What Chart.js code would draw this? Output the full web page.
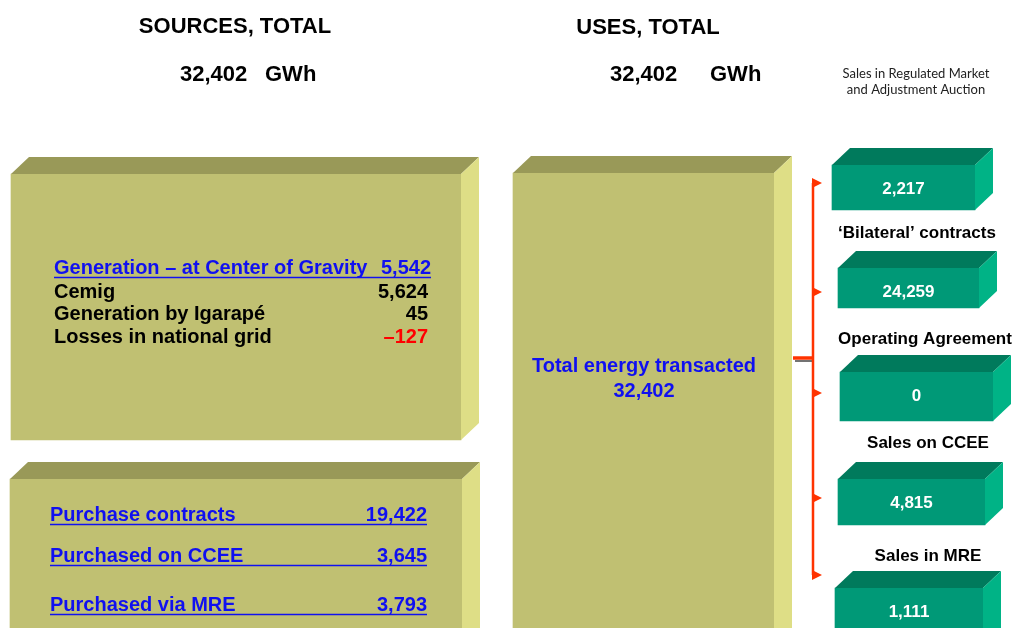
<!DOCTYPE html>
<html>
<head>
<meta charset="utf-8">
<script src="https://cdn.jsdelivr.net/npm/chart.js@4.4.1/dist/chart.umd.min.js"></script>
<style>
  html, body { margin: 0; padding: 0; background: #fff; }
  #wrap { width: 1016px; height: 628px; }
</style>
</head>
<body>
<div id="wrap"><canvas id="chart" width="1016" height="628"></canvas></div>
<script>
// values, GWh
const sourcesTotal = 32402;
const usesTotal = 32402;
const generationTitle = 'Generation – at Center of Gravity';
const generationTotal = 5542;
const generationLabels = ['Cemig', 'Generation by Igarapé', 'Losses in national grid'];
const generationValues = [5624, 45, -127];
const purchaseLabels = ['Purchase contracts', 'Purchased on CCEE', 'Purchased via MRE'];
const purchaseValues = [19422, 3645, 3793];
const transactedLabel = 'Total energy transacted';
const transactedValue = 32402;
const useLabels = ['Sales in Regulated Market|and Adjustment Auction', '‘Bilateral’ contracts', 'Operating Agreement', 'Sales on CCEE', 'Sales in MRE'];
const useValues = [2217, 24259, 0, 4815, 1111];

// layout of the slide (units = px of the 1016x628 slide)
const srcBoxes = [[11, 174, 461, 440], [10, 479, 462, 650], [513, 173, 774, 650]];
const useBoxes = [[832, 165, 975, 210], [838, 268, 979, 308], [840, 372, 993, 421], [838, 479, 985, 525], [835, 588, 983, 650]];
const useLabelPos = [[916, 74], [917, 233], [925, 339], [928, 443], [928, 556]];
const arrowYs = [183, 292, 393, 498, 575];
const depth = [18, 17];

const khaki = { front: '#c0c072', top: '#999958', side: '#dede86' };
const green = { front: '#009977', top: '#007a5c', side: '#00b386' };
const arrowRed = '#ff3300';
const linkBlue = '#1010f0';
const FONT = '"Liberation Sans", Arial, sans-serif';

function fmt(v) {
  return (v < 0 ? '–' : '') + Math.abs(v).toLocaleString('en-US');
}

function boxDataset(b, pal) {
  return {
    data: [{ x: (b[0] + b[2]) / 2, y: [b[1], b[3]] }],
    barThickness: b[2] - b[0],
    backgroundColor: pal.front,
    topColor: pal.top,
    sideColor: pal.side,
    borderWidth: 0,
    grouped: false
  };
}

var datasets = [];
srcBoxes.forEach(b => datasets.push(boxDataset(b, khaki)));
useBoxes.forEach(b => datasets.push(boxDataset(b, green)));

// top and side faces of each box
const box3d = {
  id: 'box3d',
  afterDatasetsDraw(chart) {
    const ctx = chart.ctx;
    const dx = depth[0], dy = depth[1];
    chart.data.datasets.forEach((ds, i) => {
      chart.getDatasetMeta(i).data.forEach(el => {
        const l = el.x - el.width / 2, r = el.x + el.width / 2;
        const t = Math.min(el.y, el.base), btm = Math.max(el.y, el.base);
        ctx.save();
        ctx.fillStyle = ds.topColor;
        ctx.beginPath();
        ctx.moveTo(l, t); ctx.lineTo(l + dx, t - dy); ctx.lineTo(r + dx, t - dy); ctx.lineTo(r, t);
        ctx.closePath(); ctx.fill();
        ctx.fillStyle = ds.sideColor;
        ctx.beginPath();
        ctx.moveTo(r, t); ctx.lineTo(r + dx, t - dy); ctx.lineTo(r + dx, btm - dy); ctx.lineTo(r, btm);
        ctx.closePath(); ctx.fill();
        ctx.restore();
      });
    });
  }
};

// all the text, connector and arrows
const slideText = {
  id: 'slideText',
  afterDraw(chart) {
    const ctx = chart.ctx;
    const X = v => chart.scales.x.getPixelForValue(v);
    const Y = v => chart.scales.y.getPixelForValue(v);
    ctx.save();
    ctx.textBaseline = 'middle';

    function txt(s, x, y, font, color, align) {
      ctx.font = font;
      ctx.fillStyle = color;
      ctx.textAlign = align || 'left';
      ctx.fillText(s, X(x), Y(y));
    }
    function underline(x0, x1, y, color) {
      ctx.strokeStyle = color;
      ctx.lineWidth = 1.6;
      ctx.beginPath();
      ctx.moveTo(X(x0), Y(y)); ctx.lineTo(X(x1), Y(y));
      ctx.stroke();
    }

    // headings
    txt('SOURCES, TOTAL', 235, 27, 'bold 22px ' + FONT, '#000', 'center');
    txt('USES, TOTAL', 648, 28, 'bold 22px ' + FONT, '#000', 'center');
    txt(fmt(sourcesTotal), 180, 75, 'bold 22px ' + FONT, '#000');
    txt('GWh', 265, 75, 'bold 22px ' + FONT, '#000');
    txt(fmt(usesTotal), 610, 75, 'bold 22px ' + FONT, '#000');
    txt('GWh', 710, 75, 'bold 22px ' + FONT, '#000');

    // generation box
    const f20 = 'bold 20px ' + FONT;
    txt(generationTitle, 54, 268, f20, linkBlue);
    txt(fmt(generationTotal), 431, 268, f20, linkBlue, 'right');
    underline(54, 431, 277.5, linkBlue);
    const genY = [292, 314, 337];
    generationLabels.forEach((s, i) => {
      txt(s, 54, genY[i], f20, '#000');
      txt(fmt(generationValues[i]), 428, genY[i], f20, generationValues[i] < 0 ? '#ff0000' : '#000', 'right');
    });

    // purchases box
    const purY = [515, 556, 605];
    purchaseLabels.forEach((s, i) => {
      txt(s, 50, purY[i], f20, linkBlue);
      txt(fmt(purchaseValues[i]), 427, purY[i], f20, linkBlue, 'right');
      underline(50, 427, purY[i] + 9.5, linkBlue);
    });

    // total transacted
    txt(transactedLabel, 644, 366, f20, linkBlue, 'center');
    txt(fmt(transactedValue), 644, 391, f20, linkBlue, 'center');

    // uses labels and values
    useLabels.forEach((s, i) => {
      const p = useLabelPos[i];
      if (s.indexOf('|') >= 0) {
        s.split('|').forEach((line, k) => txt(line, p[0], p[1] + k * 16, '13px Lato, ' + FONT, '#222', 'center'));
      } else {
        txt(s, p[0], p[1], 'bold 17px ' + FONT, '#000', 'center');
      }
    });
    const meta = chart.data.datasets.map((d, i) => chart.getDatasetMeta(i));
    useValues.forEach((v, i) => {
      const el = meta[srcBoxes.length + i].data[0];
      const t = Math.min(el.y, el.base);
      ctx.font = 'bold 17px ' + FONT;
      ctx.fillStyle = '#fff';
      ctx.textAlign = 'center';
      ctx.fillText(fmt(v), el.x, t + 24);
    });

    // connector with arrows
    ctx.strokeStyle = '#444';
    ctx.lineWidth = 1.5;
    ctx.beginPath(); ctx.moveTo(X(795), Y(361)); ctx.lineTo(X(812), Y(361)); ctx.stroke();
    ctx.strokeStyle = arrowRed;
    ctx.lineWidth = 3.5;
    ctx.beginPath(); ctx.moveTo(X(793), Y(358)); ctx.lineTo(X(813), Y(358)); ctx.stroke();
    ctx.lineWidth = 2.5;
    ctx.beginPath(); ctx.moveTo(X(813), Y(arrowYs[0])); ctx.lineTo(X(813), Y(arrowYs[arrowYs.length - 1])); ctx.stroke();
    ctx.fillStyle = arrowRed;
    arrowYs.forEach(y => {
      ctx.beginPath();
      ctx.moveTo(X(812), Y(y - 5)); ctx.lineTo(X(822), Y(y)); ctx.lineTo(X(812), Y(y + 5));
      ctx.closePath(); ctx.fill();
    });
    ctx.restore();
  }
};

var chart = new Chart(document.getElementById('chart'), {
  type: 'bar',
  data: { datasets: datasets },
  options: {
    responsive: false,
    animation: false,
    devicePixelRatio: 1,
    layout: { padding: 0 },
    plugins: { legend: { display: false }, tooltip: { enabled: false } },
    scales: {
      x: { type: 'linear', min: 0, max: 1016, offset: false, display: false },
      y: { type: 'linear', min: 0, max: 628, reverse: true, display: false }
    }
  },
  plugins: [box3d, slideText]
});
</script>
</body>
</html>
